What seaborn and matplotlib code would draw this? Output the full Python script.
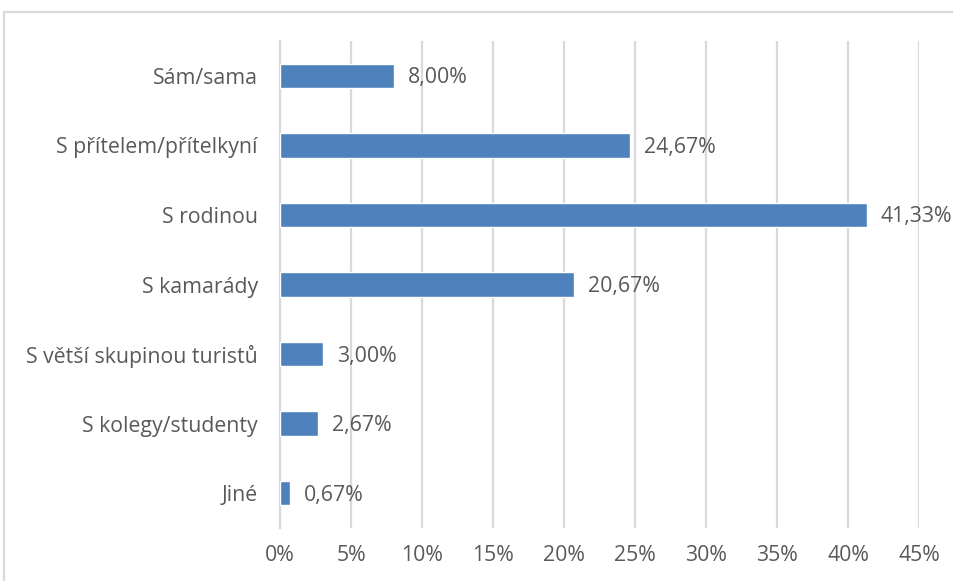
import matplotlib
matplotlib.use("Agg")
import matplotlib.pyplot as plt
import seaborn as sns
import pandas as pd
from matplotlib.patches import Rectangle

categories = [
    "Sám/sama",
    "S přítelem/přítelkyní",
    "S rodinou",
    "S kamarády",
    "S větší skupinou turistů",
    "S kolegy/studenty",
    "Jiné",
]
values = [8.00, 24.67, 41.33, 20.67, 3.00, 2.67, 0.67]
xticks = [0, 5, 10, 15, 20, 25, 30, 35, 40, 45]
xtick_labels = [f"{t}%" for t in xticks]

df = pd.DataFrame({"kategorie": categories, "podil": values})

sns.set_theme(style="white")
plt.rcParams["font.family"] = ["Open Sans", "DejaVu Sans"]

W, H = 954, 581
fig = plt.figure(figsize=(W / 100, H / 100), dpi=100)
ax = fig.add_axes([280 / W, 1 - 528 / H, (919 - 280) / W, (528 - 41) / H])

grid_c = "#d9d9d9"
text_c = "#595959"
bar_c = "#4f81bd"
fs = 15.3

sns.barplot(data=df, x="podil", y="kategorie", orient="h", color=bar_c,
            width=0.35, saturation=1, ax=ax, zorder=3)

ax.set_xlim(0, 45)
ax.set_xticks(xticks)
ax.set_xticklabels(xtick_labels)
ax.grid(axis="x", color=grid_c, linewidth=1.6, zorder=0)
ax.grid(axis="y", visible=False)
for s in ["top", "right", "bottom"]:
    ax.spines[s].set_visible(False)
ax.spines["left"].set_color(grid_c)
ax.spines["left"].set_linewidth(1.6)
ax.set_xlabel("")
ax.set_ylabel("")
ax.tick_params(axis="both", length=0, labelsize=fs, colors=text_c)
ax.tick_params(axis="x", pad=12)
ax.tick_params(axis="y", pad=16)

for i, v in enumerate(values):
    ax.annotate(f"{v:.2f}%".replace(".", ","), xy=(v, i), xytext=(14, -2),
                textcoords="offset pixels",
                va="center", ha="left", fontsize=fs, color=text_c,
                annotation_clip=False)

# chart frame
fig.patches.append(Rectangle((4.5 / W, -0.1), 1.2, 1 - 12 / H + 0.1,
                             transform=fig.transFigure, fill=False,
                             edgecolor=grid_c, linewidth=1.6))

fig.savefig("out.png", dpi=100)
